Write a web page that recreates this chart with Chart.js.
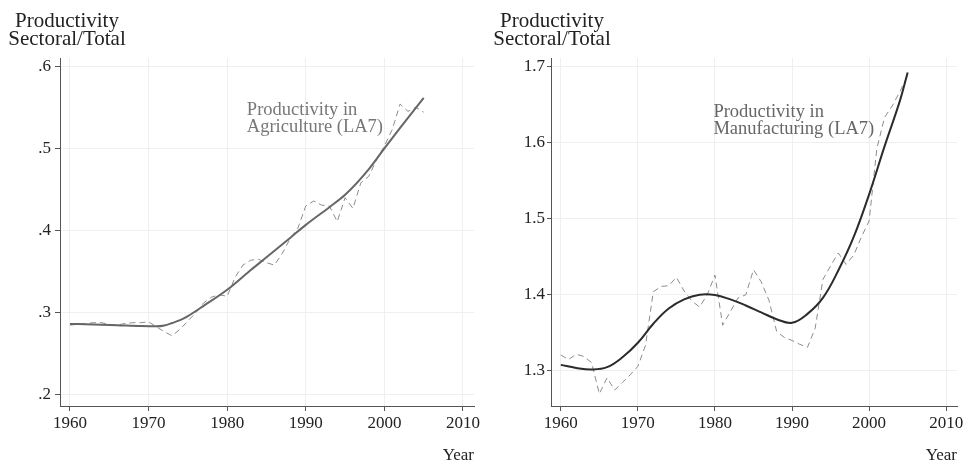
<!DOCTYPE html>
<html><head><meta charset="utf-8">
<script src="https://cdn.jsdelivr.net/npm/chart.js@4.4.1/dist/chart.umd.min.js"></script>
<style>
html,body{margin:0;padding:0;background:#fff;width:964px;height:466px;overflow:hidden;}
canvas{position:absolute;top:0;}
#l{left:0;} #r{left:482px;}
</style></head><body>
<canvas id="l" width="482" height="466"></canvas>
<canvas id="r" width="482" height="466"></canvas>
<script>
const years = [1960,1961,1962,1963,1964,1965,1966,1967,1968,1969,1970,1971,1972,1973,1974,1975,1976,1977,1978,1979,1980,1981,1982,1983,1984,1985,1986,1987,1988,1989,1990,1991,1992,1993,1994,1995,1996,1997,1998,1999,2000,2001,2002,2003,2004,2005];
const agriActual = [0.285,0.286,0.287,0.288,0.288,0.286,0.285,0.287,0.288,0.288,0.289,0.283,0.277,0.272,0.280,0.290,0.300,0.312,0.319,0.322,0.320,0.343,0.358,0.364,0.365,0.361,0.358,0.372,0.390,0.403,0.430,0.436,0.431,0.430,0.411,0.440,0.427,0.458,0.466,0.486,0.503,0.523,0.554,0.545,0.550,0.544];
const agriTrendYears = [1960,1963,1966,1969,1971,1972,1973,1974,1975,1977,1980,1983,1985,1988,1990,1993,1995,1998,2000,2002,2005];
const agriTrend = [0.2865,0.2857,0.2848,0.2838,0.2835,0.2845,0.2875,0.291,0.296,0.3085,0.328,0.352,0.3675,0.391,0.407,0.4285,0.4435,0.4745,0.500,0.525,0.5615];
const manuActual = [1.321,1.315,1.322,1.319,1.311,1.270,1.291,1.275,1.285,1.295,1.306,1.334,1.404,1.411,1.412,1.423,1.405,1.392,1.384,1.400,1.426,1.360,1.378,1.396,1.400,1.433,1.417,1.393,1.352,1.344,1.340,1.335,1.331,1.356,1.420,1.438,1.455,1.440,1.452,1.476,1.497,1.592,1.633,1.648,1.667,1.688];
const manuTrendYears = [1960,1962,1964,1966,1968,1970,1972,1974,1976,1978,1980,1982,1984,1986,1988,1990,1992,1994,1996,1998,2000,2002,2004,2005];
const manuTrend = [1.308,1.304,1.302,1.305,1.318,1.337,1.362,1.382,1.394,1.400,1.3997,1.394,1.386,1.377,1.368,1.3632,1.375,1.396,1.432,1.476,1.532,1.595,1.655,1.692];
const xTicks = [1960,1970,1980,1990,2000,2010];
const agriYTicks = [0.2,0.3,0.4,0.5,0.6];
const manuYTicks = [1.3,1.4,1.5,1.6,1.7];
const yTitle = ['Productivity','Sectoral/Total'];
const xTitle = 'Year';
const agriNote = ['Productivity in','Agriculture (LA7)'];
const manuNote = ['Productivity in','Manufacturing (LA7)'];

const FONT = '"Liberation Serif", "Times New Roman", serif';

const textPlugin = {
  id: 'texts',
  afterDatasetsDraw(chart, args, o) {
    const ctx = chart.ctx, xs = chart.scales.x, ys = chart.scales.y;
    ctx.save();
    ctx.textBaseline = 'alphabetic';
    ctx.font = '21px ' + FONT;
    ctx.fillStyle = '#222';
    ctx.textAlign = 'center';
    ctx.fillText(yTitle[0], o.titleX, 27);
    ctx.fillText(yTitle[1], o.titleX, 45);
    ctx.font = '18.5px ' + FONT;
    ctx.fillStyle = o.noteColor;
    ctx.textAlign = 'left';
    const nx = xs.getPixelForValue(o.noteAt[0]);
    ctx.fillText(o.note[0], nx, ys.getPixelForValue(o.noteAt[1]));
    ctx.fillText(o.note[1], nx, ys.getPixelForValue(o.noteAt[2]));
    ctx.restore();
  }
};

function pts(xa, ya) { return xa.map((x, i) => ({x: x, y: ya[i]})); }

function makeChart(id, cfg) {
  new Chart(document.getElementById(id), {
    type: 'line',
    data: {
      datasets: [
        { data: pts(cfg.trendYears, cfg.trend), borderColor: cfg.trendColor, borderWidth: 2,
          pointRadius: 0, cubicInterpolationMode: cfg.interp, tension: 0.4, fill: false },
        { data: pts(years, cfg.actual), borderColor: '#8c8c8c', borderWidth: 1, borderDash: [6, 4],
          pointRadius: 0, tension: 0, fill: false }
      ]
    },
    options: {
      responsive: false, animation: false, devicePixelRatio: 1,
      layout: { padding: { left: 0, right: cfg.padRight, top: 58, bottom: 0 } },
      plugins: { legend: { display: false }, tooltip: { enabled: false }, texts: cfg.texts },
      scales: {
        x: {
          type: 'linear', min: 1958.73, max: 2011.4,
          afterBuildTicks: s => { s.ticks = xTicks.map(v => ({ value: v })); },
          afterFit: s => { s.height = 60; s.paddingLeft = 0; s.paddingRight = 0; },
          ticks: { callback: v => String(v), font: { family: FONT, size: 17 }, color: '#222', padding: 2, maxRotation: 0, autoSkip: false },
          grid: { color: '#efefef', lineWidth: 1, drawTicks: true, tickLength: 5, tickColor: '#555', tickWidth: 1 },
          border: { display: true, color: '#555', width: 1 },
          title: { display: true, text: xTitle, align: 'end', font: { family: FONT, size: 17 }, color: '#222', padding: { top: 0, bottom: 0 } }
        },
        y: {
          type: 'linear', min: cfg.yMin, max: cfg.yMax,
          afterBuildTicks: s => { s.ticks = cfg.yTicks.map(v => ({ value: v })); },
          afterFit: s => { s.width = cfg.yWidth; s.paddingTop = 0; s.paddingBottom = 0; },
          ticks: { callback: cfg.fmt, font: { family: FONT, size: 17 }, color: '#222', padding: cfg.yPad, autoSkip: false },
          grid: { color: '#efefef', lineWidth: 1, drawTicks: true, tickLength: cfg.yTick, tickColor: '#555', tickWidth: 1 },
          border: { display: true, color: '#555', width: 1 }
        }
      }
    },
    plugins: [textPlugin]
  });
}

makeChart('l', {
  trendYears: agriTrendYears, trend: agriTrend, actual: agriActual, trendColor: '#666666', interp: 'monotone',
  yMin: 0.1866, yMax: 0.610, yTicks: agriYTicks, fmt: v => v.toFixed(1).replace(/^0/, ''),
  yWidth: 60, padRight: 8, yPad: 4, yTick: 5,
  texts: { titleX: 67, note: agriNote, noteAt: [1982.5, 0.541, 0.520], noteColor: '#777' }
});
makeChart('r', {
  trendYears: manuTrendYears, trend: manuTrend, actual: manuActual, trendColor: '#2b2b2b', interp: 'default',
  yMin: 1.254, yMax: 1.711, yTicks: manuYTicks, fmt: v => v.toFixed(1),
  yWidth: 69, padRight: 7, yPad: 2, yTick: 4,
  texts: { titleX: 70, note: manuNote, noteAt: [1979.8, 1.634, 1.6115], noteColor: '#666' }
});
</script>
</body></html>
